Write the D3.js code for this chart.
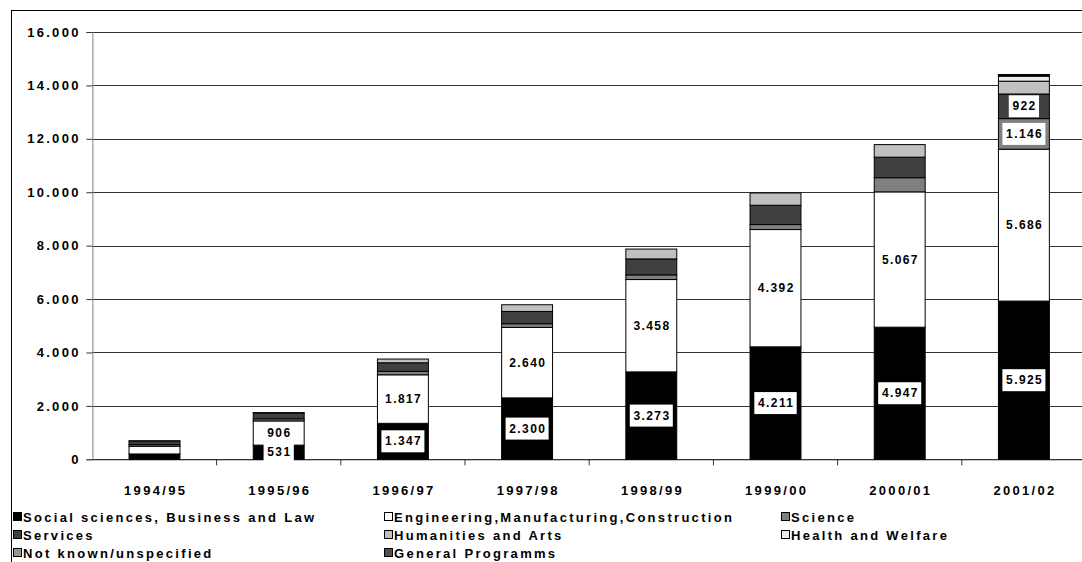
<!DOCTYPE html>
<html>
<head>
<meta charset="utf-8">
<script src="https://cdn.jsdelivr.net/npm/d3@7"></script>
<style>
  html, body { margin: 0; padding: 0; background: #fff; }
  svg { display: block; }
  text { font-family: "Liberation Sans", Arial, sans-serif; font-weight: bold; }
</style>
</head>
<body>
<svg id="chart" width="1082" height="562"></svg>
<script>
// Academic years on the category axis
const years = ["1994/95", "1995/96", "1996/97", "1997/98", "1998/99", "1999/00", "2000/01", "2001/02"];

// Graduates by field of study, one array per field (stacked bottom to top)
const socialSciences = [200, 531, 1347, 2300, 3273, 4211, 4947, 5925];
const engineering    = [290, 906, 1817, 2640, 3458, 4392, 5067, 5686];
const science        = [60, 80, 130, 137, 174, 187, 530, 1146];
const services       = [130, 220, 320, 460, 598, 723, 770, 922];
const humanities     = [15, 10, 140, 250, 370, 460, 470, 480];
const health         = [0, 0, 0, 0, 0, 0, 0, 185];
const notKnown       = [0, 0, 0, 0, 0, 0, 0, 40];
const general        = [0, 0, 0, 0, 0, 0, 0, 25];

const seriesNames = [
  "Social sciences, Business and Law",
  "Engineering,Manufacturing,Construction",
  "Science",
  "Services",
  "Humanities and Arts",
  "Health and Welfare",
  "Not known/unspecified",
  "General Programms"
];
const seriesValues = [socialSciences, engineering, science, services, humanities, health, notKnown, general];
const seriesColors = ["#000000", "#ffffff", "#808080", "#404040", "#c0c0c0", "#ececec", "#969696", "#505050"];

// Which segments carry a value label (series index -> year indexes)
const labelled = {
  0: [1, 2, 3, 4, 5, 6, 7],
  1: [1, 2, 3, 4, 5, 6, 7],
  2: [7],
  3: [7]
};

const yTicks = [0, 2000, 4000, 6000, 8000, 10000, 12000, 14000, 16000];

const FONT_SIZE = "13px";
const SPACING = 2.3;
const LABEL_SIZE = "12px";
const LABEL_SPACING = 1.4;

const svg = d3.select("#chart");
const fmt = d3.formatLocale({ decimal: ",", thousands: ".", grouping: [3], currency: ["", ""] }).format(",d");

const plot = { left: 92.4, right: 1086, top: 32, bottom: 459.3 };

const x = d3.scaleBand().domain(years).range([plot.left, plot.right]).padding(0);
const barW = x.bandwidth() * 0.41;
const y = d3.scaleLinear().domain([0, 16000]).range([plot.bottom, plot.top]);

function styleText(sel, size = FONT_SIZE, spacing = SPACING) {
  return sel.style("font-size", size)
    .style("letter-spacing", spacing + "px")
    .style("font-family", "'Liberation Sans', Arial, sans-serif")
    .style("font-weight", "bold")
    .attr("fill", "#000");
}

// Outer chart frame
svg.append("rect")
  .attr("x", 11.5).attr("y", 10.5)
  .attr("width", 1200).attr("height", 700)
  .attr("fill", "none").attr("stroke", "#000").attr("stroke-width", 1);

// Horizontal gridlines
svg.append("g")
  .selectAll("line")
  .data(yTicks)
  .join("line")
  .attr("x1", plot.left).attr("x2", plot.right)
  .attr("y1", d => Math.round(y(d)) + 0.5).attr("y2", d => Math.round(y(d)) + 0.5)
  .attr("stroke", "#333").attr("stroke-width", 1);

// Y axis
const yAxis = svg.append("g")
  .attr("transform", `translate(${plot.left},0)`)
  .call(d3.axisLeft(y).tickValues(yTicks).tickFormat(d => fmt(d)).tickSize(6).tickPadding(8 - SPACING));
yAxis.select(".domain").attr("stroke", "#808080");
yAxis.selectAll(".tick line").attr("stroke", "#333");
styleText(yAxis.selectAll("text"));

// X axis with tick marks at category boundaries
const xAxis = svg.append("g").attr("transform", `translate(0,${plot.bottom})`);
xAxis.append("line")
  .attr("x1", plot.left).attr("x2", plot.right)
  .attr("y1", 0.5).attr("y2", 0.5).attr("stroke", "#333");
xAxis.selectAll("line.tick")
  .data(years)
  .join("line")
  .attr("class", "tick")
  .attr("x1", d => x(d) + x.bandwidth()).attr("x2", d => x(d) + x.bandwidth())
  .attr("y1", 0).attr("y2", 6).attr("stroke", "#333");
styleText(xAxis.selectAll("text")
  .data(years)
  .join("text")
  .attr("x", d => x(d) + x.bandwidth() / 2 + SPACING / 2)
  .attr("y", 36)
  .attr("text-anchor", "middle")
  .text(d => d));

// Stacked bars
const table = years.map((yr, i) => {
  const row = { year: yr };
  seriesNames.forEach((n, s) => { row[n] = seriesValues[s][i]; });
  return row;
});
const stacked = d3.stack().keys(seriesNames)(table);

const barsG = svg.append("g");
stacked.forEach((layer, s) => {
  barsG.append("g")
    .selectAll("rect")
    .data(layer.filter(d => d[1] - d[0] > 0))
    .join("rect")
    .attr("x", d => x(d.data.year) + (x.bandwidth() - barW) / 2)
    .attr("width", barW)
    .attr("y", d => y(d[1]))
    .attr("height", d => y(d[0]) - y(d[1]))
    .attr("fill", seriesColors[s])
    .attr("stroke", "#000").attr("stroke-width", 1);
});

// Value labels in white boxes
const labelsG = svg.append("g");
Object.keys(labelled).forEach(key => {
  const s = +key;
  labelled[s].forEach(i => {
    const d = stacked[s][i];
    const cx = x(years[i]) + x.bandwidth() / 2;
    const cy = y((d[0] + d[1]) / 2);
    const g = labelsG.append("g");
    const t = styleText(g.append("text")
      .attr("x", cx + LABEL_SPACING / 2).attr("y", cy)
      .attr("text-anchor", "middle").attr("dominant-baseline", "central")
      .text(fmt(seriesValues[s][i])), LABEL_SIZE, LABEL_SPACING);
    const w = t.node().getComputedTextLength() + 6;
    g.insert("rect", "text")
      .attr("x", cx - w / 2).attr("y", cy - 11)
      .attr("width", w).attr("height", 22)
      .attr("fill", "#fff");
  });
});

// Legend: three columns, three rows
const legendCols = [13, 384, 781];
const legendRows = [517, 535, 553];
const legendPos = [[0, 0], [1, 0], [2, 0], [0, 1], [1, 1], [2, 1], [0, 2], [1, 2]];
const legend = svg.append("g");
seriesNames.forEach((name, s) => {
  const [c, r] = legendPos[s];
  const g = legend.append("g").attr("transform", `translate(${legendCols[c]},${legendRows[r]})`);
  g.append("rect")
    .attr("x", 0.5).attr("y", -4.5).attr("width", 8).attr("height", 8)
    .attr("fill", seriesColors[s]).attr("stroke", "#000");
  styleText(g.append("text")
    .attr("x", 10).attr("y", 0)
    .attr("dominant-baseline", "central")
    .text(name));
});
</script>
</body>
</html>
